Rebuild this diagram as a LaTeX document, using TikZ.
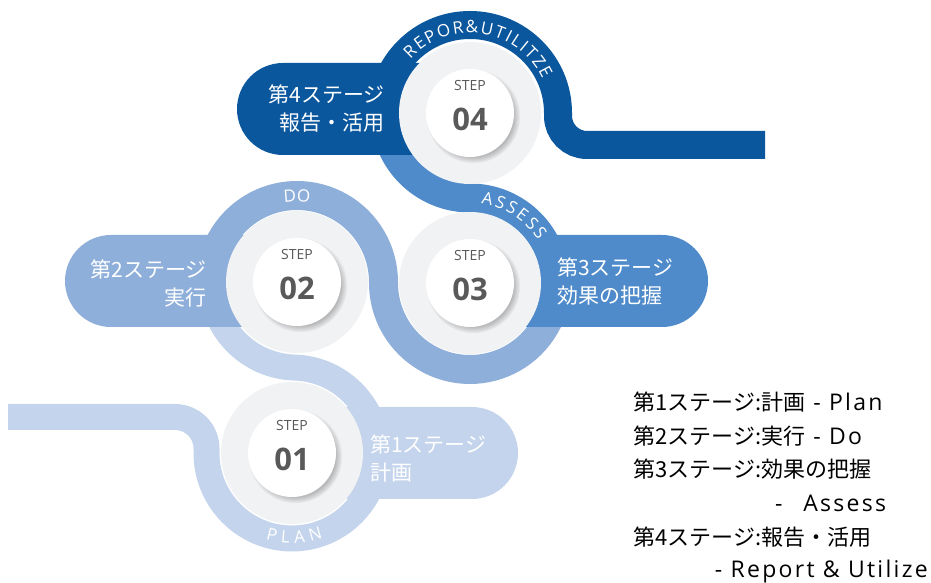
\documentclass[tikz,border=0pt]{standalone}
\usepackage{fontspec}
\setmainfont{Noto Sans CJK JP}
\newfontfamily\jpfont{Noto Sans CJK JP}
\newfontfamily\osfont{Open Sans}
\newfontfamily\latfont{Open Sans}[LetterSpace=10]
\usetikzlibrary{decorations.text,shadows,calc}
\definecolor{bandA}{HTML}{C4D4EC}
\definecolor{bandB}{HTML}{8FAFDB}
\definecolor{bandC}{HTML}{4F8BCA}
\definecolor{bandD}{HTML}{0B579E}
\definecolor{ringgray}{HTML}{F1F2F4}
\definecolor{numgray}{HTML}{595959}
\newcommand{\bandtxt}{\osfont\fontsize{17}{17}\selectfont}
\newcommand{\lat}[1]{{\latfont\fontsize{23}{23}\selectfont #1}}
\begin{document}
\begin{tikzpicture}[x=1pt,y=1pt,
  bandline/.style={line width=29pt},
  ringdisc/.style={circle, fill=ringgray, minimum size=142pt, inner sep=0pt},
  whitedisc/.style={circle, fill=white, minimum size=88pt, inner sep=0pt,
    circular drop shadow={shadow xshift=3pt, shadow yshift=-3pt, shadow scale=1.07, opacity=0.5}},
  steplbl/.style={font=\osfont\fontsize{14}{14}\selectfont, text=numgray, inner sep=0pt},
  stepnum/.style={font=\osfont\bfseries\fontsize{31}{31}\selectfont, text=numgray, inner sep=0pt},
  stagelbl/.style={font=\jpfont\fontsize{21}{28}\selectfont, text=white, inner sep=0pt},
  legendtxt/.style={font=\jpfont\fontsize{22}{22}\selectfont, text=black, inner sep=0pt}
]
\useasboundingbox (0,0) rectangle (931,583);

\coordinate (C1) at (292,130);
\coordinate (C2) at (297,301);
\coordinate (C3) at (470,300);
\coordinate (C4) at (470,470);

% band 1 (PLAN)
\draw[bandline, line width=26pt, draw=bandA] (8,166) -- (175,166) arc[start angle=90,end angle=0,radius=31.5]
  -- ($(C1)+(180:85.5)$) arc[start angle=180,end angle=448.33,radius=85.5]
  arc[start angle=268.33,end angle=180,radius=85.5];
\fill[bandA] (292,84) -- (472,84) arc[start angle=-90,end angle=90,radius=46] -- (292,176) -- cycle;

% band 2 (DO)
\draw[bandline, draw=bandB] ($(C2)+(180:86.5)$) arc[start angle=180,end angle=-0.33,radius=86.5]
  arc[start angle=179.67,end angle=360,radius=86.5];
\fill[bandB] (297,256) -- (111,256) arc[start angle=270,end angle=90,radius=46] -- (297,348) -- cycle;

% band 3 (ASSESS)
\draw[bandline, draw=bandC] ($(C3)+(0:85)$) arc[start angle=0,end angle=90,radius=85]
  arc[start angle=270,end angle=180,radius=85];
\fill[bandC] (470,256) -- (662,256) arc[start angle=-90,end angle=90,radius=46] -- (470,348) -- cycle;

% band 4 (REPORT)
\draw[bandline, line width=28pt, draw=bandD] ($(C4)+(180:88)$) arc[start angle=180,end angle=0,radius=88]
  -- ++(0,-3) arc[start angle=180,end angle=270,radius=29] -- (765,438);
\fill[bandD] (470,428) -- (283,428) arc[start angle=270,end angle=90,radius=46] -- (470,520) -- cycle;

% circles
\foreach \i in {1,2,3,4}{
  \node[ringdisc] (ring\i) at (C\i) {};
  \node[whitedisc] (disc\i) at (C\i) {};
}
\node[steplbl] (step1) at ($(C1)+(0,27)$) {STEP};
\node[stepnum] (num1) at ($(C1)+(0,-6)$) {01};
\node[steplbl] (step2) at ($(C2)+(0,27)$) {STEP};
\node[stepnum] (num2) at ($(C2)+(0,-6)$) {02};
\node[steplbl] (step3) at ($(C3)+(0,27)$) {STEP};
\node[stepnum] (num3) at ($(C3)+(0,-6)$) {03};
\node[steplbl] (step4) at ($(C4)+(0,27)$) {STEP};
\node[stepnum] (num4) at ($(C4)+(0,-6)$) {04};

% arc texts
\path[decorate, decoration={text along path, text={|\bandtxt|PLAN}, text color=white, text align={fit to path}}]
  ($(C1)+(253:90)$) arc[start angle=253,end angle=290,radius=90];
\path[decorate, decoration={text along path, text={|\bandtxt|DO}, text color=white, text align=center}]
  ($(C2)+(110:80)$) arc[start angle=110,end angle=70,radius=80];
\path[decorate, decoration={text along path, text={|\bandtxt|ASSESS}, text color=white, text align={fit to path}}]
  ($(C3)+(82:80)$) arc[start angle=82,end angle=32,radius=80];
\path[decorate, decoration={text along path, text={|\bandtxt|REPOR{\&}UTILITZE}, text color=white, text align={fit to path}}]
  ($(C4)+(138:80)$) arc[start angle=138,end angle=25,radius=80];

% stage labels
\node[stagelbl, align=left, anchor=west] (lab1) at (370,124.5) {第1ステージ\\計画};
\node[stagelbl, align=right, anchor=east] (lab2) at (207,299) {第2ステージ\\実行};
\node[stagelbl, align=left, anchor=west] (lab3) at (557,301.5) {第3ステージ\\効果の把握};
\node[stagelbl, align=right, anchor=east] (lab4) at (385,474) {第4ステージ\\報告・活用};

% legend
\node[legendtxt, anchor=west] (leg1) at (633,181.3) {第1ステージ:計画\lat{ - Plan}};
\node[legendtxt, anchor=west] (leg2) at (633,147.3) {第2ステージ:実行\lat{ - Do}};
\node[legendtxt, anchor=west] (leg3) at (633,114) {第3ステージ:効果の把握};
\node[legendtxt, anchor=west] (leg4) at (775,80) {\lat{-\hspace{0.9em}Assess}};
\node[legendtxt, anchor=west] (leg5) at (633,46.3) {第4ステージ:報告・活用};
\node[legendtxt, anchor=east] (leg6) at (928,11.3) {\lat{- Report \& Utilize}};
\end{tikzpicture}
\end{document}
